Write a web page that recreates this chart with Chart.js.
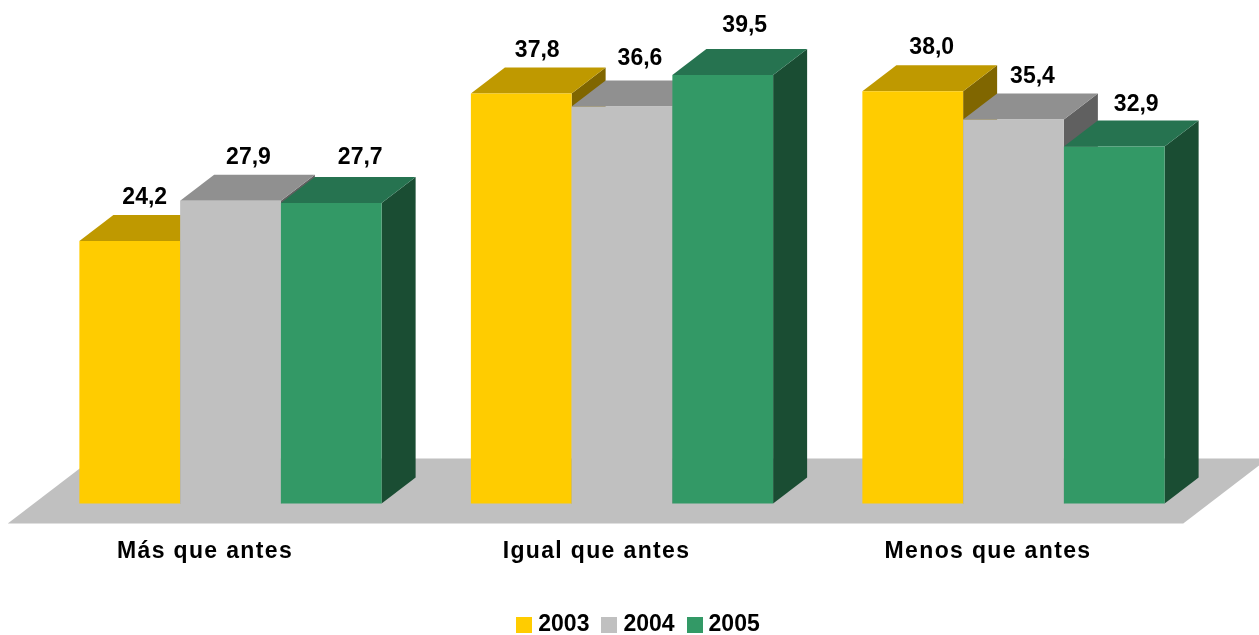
<!DOCTYPE html>
<html>
<head>
<meta charset="utf-8">
<title>Más que antes</title>
<script src="https://cdn.jsdelivr.net/npm/chart.js@4"></script>
<style>
    body { margin: 0; background: #fff; }
    canvas { display: block; }
</style>
</head>
<body>
<canvas id="grafico" width="1259" height="635"></canvas>
<script>
const categorias = ['Más que antes', 'Igual que antes', 'Menos que antes'];
const anios = ['2003', '2004', '2005'];
const valores2003 = [24.2, 37.8, 38.0];
const valores2004 = [27.9, 36.6, 35.4];
const valores2005 = [27.7, 39.5, 32.9];

const colores = ['#FFCC00', '#C0C0C0', '#339966'];
const coloresTapa = ['#BF9900', '#909090', '#267350'];
const coloresLado = ['#806600', '#606060', '#1A4D33'];

const FUENTE = '"Liberation Sans", Arial, sans-serif';
const PROF_X = 34;
const PROF_Y = 26;

// the labels were placed by hand in the original, so they are not regular
const ajusteEtiquetas = [
    [[15, -43.5], [16, -43], [19, -44]],
    [[18, -43], [18, -48], [19, -43]],
    [[29, -45], [22, -49], [22, -42]]
];

function muestra(color) {
    const c = document.createElement('canvas');
    c.width = 16;
    c.height = 16;
    const g = c.getContext('2d');
    g.fillStyle = color;
    g.fillRect(0, 0, 16, 16);
    return c;
}

function poligono(ctx, color, puntos) {
    ctx.fillStyle = color;
    ctx.beginPath();
    puntos.forEach((p, i) => i ? ctx.lineTo(p[0], p[1]) : ctx.moveTo(p[0], p[1]));
    ctx.closePath();
    ctx.fill();
}

const barras3d = {
    id: 'barras3d',
    beforeDatasetsDraw(chart) {
        const ctx = chart.ctx;
        const a = chart.chartArea;

        // floor
        ctx.save();
        poligono(ctx, '#C0C0C0', [
            [a.left - 27, a.bottom + 20],
            [a.right - 26, a.bottom + 20],
            [a.right + 59, a.bottom - 45],
            [a.left + 58, a.bottom - 45]
        ]);

        // left to right, each bar hides the side of the one before
        chart.data.datasets.forEach((ds, i) => {
            chart.getDatasetMeta(i).data.forEach(bar => {
                const izq = bar.x - bar.width / 2;
                const der = bar.x + bar.width / 2;
                poligono(ctx, coloresLado[i], [
                    [der, bar.y],
                    [der + PROF_X, bar.y - PROF_Y],
                    [der + PROF_X, bar.base - PROF_Y],
                    [der, bar.base]
                ]);
                poligono(ctx, coloresTapa[i], [
                    [izq, bar.y],
                    [izq + PROF_X, bar.y - PROF_Y],
                    [der + PROF_X, bar.y - PROF_Y],
                    [der, bar.y]
                ]);
                bar.draw(ctx);
            });
        });
        ctx.restore();
    },
    beforeDatasetDraw() {
        return false;
    },
    afterDatasetsDraw(chart) {
        const ctx = chart.ctx;
        ctx.save();
        ctx.fillStyle = '#000';
        ctx.font = 'bold 23px ' + FUENTE;
        ctx.textAlign = 'center';
        ctx.textBaseline = 'middle';
        chart.data.datasets.forEach((ds, i) => {
            chart.getDatasetMeta(i).data.forEach((bar, j) => {
                const aj = ajusteEtiquetas[i][j];
                ctx.fillText(ds.data[j].toFixed(1).replace('.', ','), bar.x + aj[0], bar.y + aj[1]);
            });
        });
        ctx.restore();
        // category ticks draw after this (ticks.z = 1)
        ctx.letterSpacing = '1.35px';
    },
    afterDraw(chart) {
        chart.ctx.letterSpacing = '0px';
    }
};

new Chart(document.getElementById('grafico'), {
    type: 'bar',
    data: {
        labels: categorias,
        datasets: [
            { label: anios[0], data: valores2003, backgroundColor: colores[0] },
            { label: anios[1], data: valores2004, backgroundColor: colores[1] },
            { label: anios[2], data: valores2005, backgroundColor: colores[2] }
        ]
    },
    options: {
        responsive: false,
        animation: false,
        barPercentage: 1,
        categoryPercentage: 0.772,
        layout: { padding: { left: 34.75, right: 12.25, top: 4.5, bottom: -11 } },
        scales: {
            x: {
                grid: { display: false },
                border: { display: false },
                afterFit(s) { s.height = 92; },
                ticks: {
                    z: 1,
                    padding: 26,
                    labelOffset: -25.5,
                    color: '#000',
                    maxRotation: 0,
                    font: { family: FUENTE, size: 23, weight: 'bold' }
                }
            },
            y: {
                position: 'right',
                min: 0,
                max: 46,
                afterFit(s) { s.width = 37.5; },
                grid: { display: false },
                border: { display: false },
                ticks: { display: false }
            }
        },
        plugins: {
            tooltip: { enabled: false },
            legend: {
                position: 'bottom',
                onClick: null,
                labels: {
                    usePointStyle: true,
                    pointStyleWidth: 5,
                    padding: 17.5,
                    color: '#000',
                    font: { family: FUENTE, size: 23, weight: 'bold' },
                    generateLabels(chart) {
                        return chart.data.datasets.map((ds, i) => ({
                            text: ds.label,
                            fontColor: '#000',
                            pointStyle: muestra(colores[i]),
                            datasetIndex: i
                        }));
                    }
                }
            }
        }
    },
    plugins: [barras3d]
});
</script>
</body>
</html>
